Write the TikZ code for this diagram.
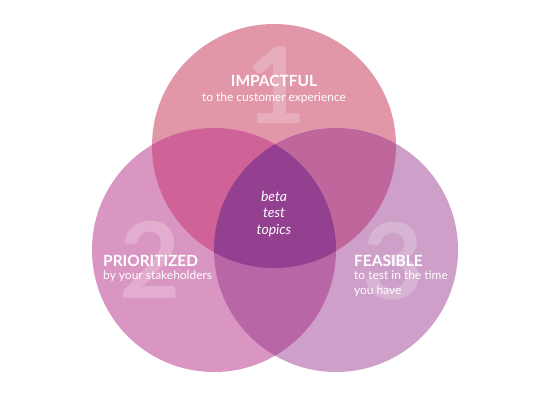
\documentclass[tikz,border=0pt]{standalone}
\usepackage{fontspec}
\setmainfont{Lato}
\usetikzlibrary{positioning}

\definecolor{impactpink}{RGB}{225,151,168}
\definecolor{priorpink}{RGB}{218,150,194}
\definecolor{feaslilac}{RGB}{206,159,200}
\definecolor{impactprior}{RGB}{207,98,151}
\definecolor{impactfeas}{RGB}{191,103,156}
\definecolor{priorfeas}{RGB}{185,102,166}
\definecolor{betapurple}{RGB}{146,64,143}

\begin{document}
\begin{tikzpicture}[
  x=1bp,y=-1bp,
  bignum/.style={text=white,text opacity=0.22,font=\fontsize{106}{106}\selectfont\bfseries,inner sep=0pt},
  headline/.style={text=white,font=\fontsize{15.5}{18}\selectfont\bfseries,inner sep=0pt},
  subline/.style={text=white,font=\fontsize{12}{15}\selectfont,inner sep=0pt,align=left},
  centretext/.style={text=white,font=\fontsize{14}{16.5}\selectfont\itshape,inner sep=0pt,align=center},
]
\def\vennr{122bp}

% ===================================================================
% Canvas
% ===================================================================
\useasboundingbox (0,0) rectangle (550,400);

\coordinate (top)   at (274,146);
\coordinate (left)  at (214,250);
\coordinate (right) at (336,250);

% ===================================================================
% Circles
% ===================================================================
\fill[impactpink] (top)   circle[radius=\vennr];
\fill[priorpink]  (left)  circle[radius=\vennr];
\fill[feaslilac]  (right) circle[radius=\vennr];

% Pairwise overlaps
\begin{scope}
  \clip (top) circle[radius=\vennr];
  \fill[impactprior] (left) circle[radius=\vennr];
\end{scope}
\begin{scope}
  \clip (top) circle[radius=\vennr];
  \fill[impactfeas] (right) circle[radius=\vennr];
\end{scope}
\begin{scope}
  \clip (left) circle[radius=\vennr];
  \fill[priorfeas] (right) circle[radius=\vennr];
\end{scope}

% Centre overlap
\begin{scope}
  \clip (top) circle[radius=\vennr];
  \clip (left) circle[radius=\vennr];
  \fill[betapurple] (right) circle[radius=\vennr];
\end{scope}

% ===================================================================
% Big numbers
% ===================================================================
\node[bignum] (numone)   at (276,85)  {1};
\node[bignum] (numtwo)   at (150,260) {2};
\node[bignum] (numthree) at (393,261) {3};

% ===================================================================
% Labels
% ===================================================================
\node[headline,anchor=base] (impact) at (274,86) {IMPACTFUL};
\node[subline,anchor=base] (impactsub) at (274,101) {to the customer experience};

\node[headline,anchor=base west] (prior) at (103,266) {PRIORITIZED};
\node[subline,anchor=base west] (priorsub) at (103,279) {by your stakeholders};

\node[headline,anchor=base west] (feas) at (354,266) {FEASIBLE};
\node[subline,anchor=north west] (feassub) at (354,270.5) {to test in the time\\you have};

\node[centretext] (beta) at (274,214) {beta\\test\\topics};

\end{tikzpicture}
\end{document}
